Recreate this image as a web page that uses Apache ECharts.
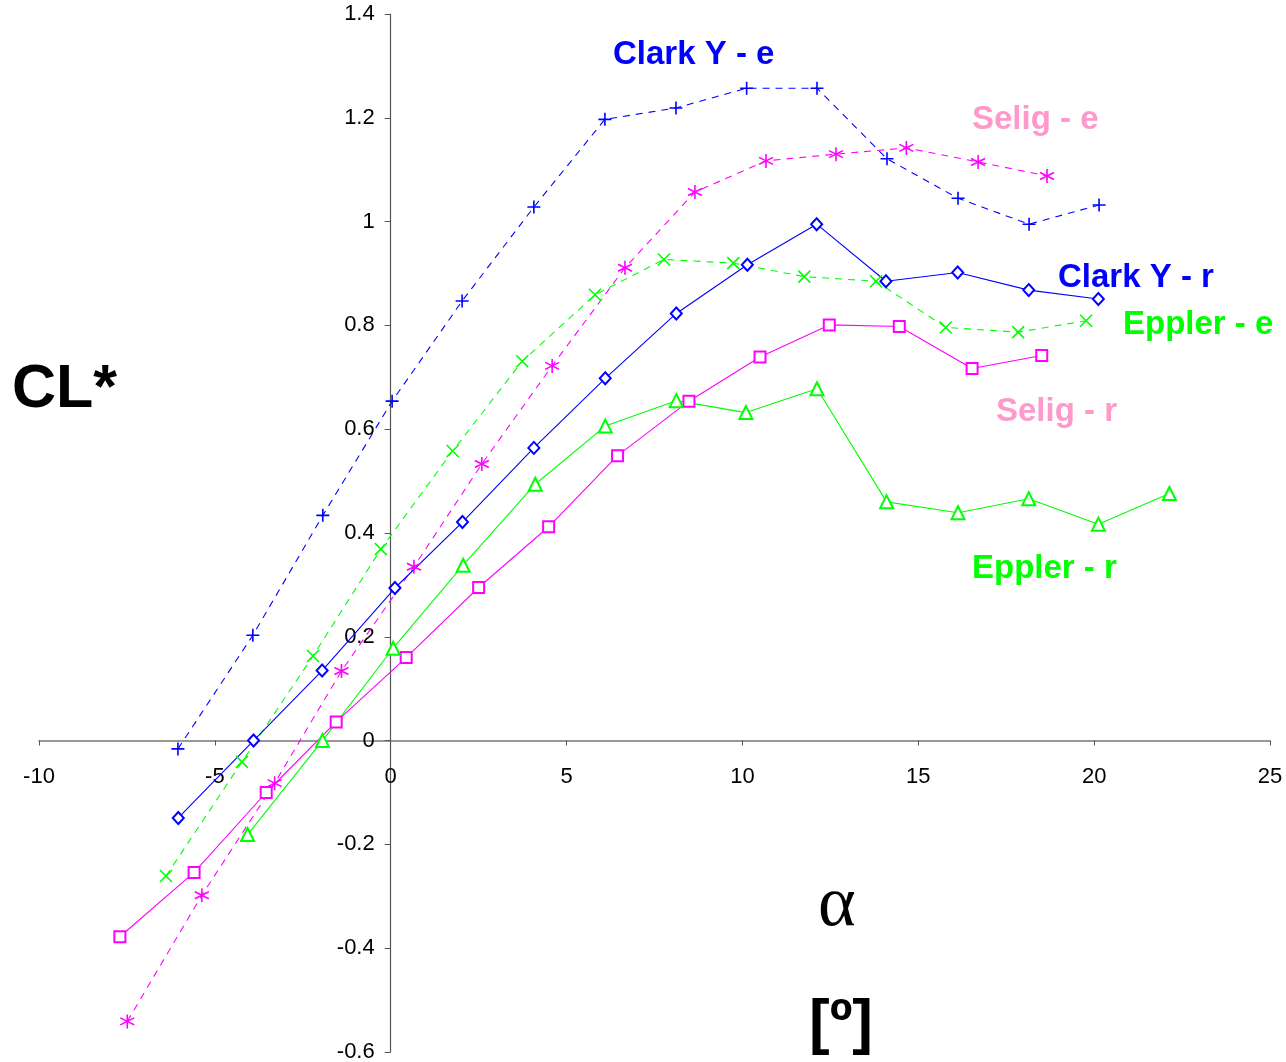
<!DOCTYPE html>
<html>
<head>
<meta charset="utf-8">
<script src="https://cdn.jsdelivr.net/npm/echarts@6/dist/echarts.min.js"></script>
<style>
  html, body { margin: 0; padding: 0; background: #fff; }
  #chart { width: 1286px; height: 1062px; }
</style>
</head>
<body>
<div id="chart"></div>
<script>
// angle of attack (deg) and CL* for each airfoil, e = experiment, r = ...
let clarkE_x = [-6.05, -3.92, -1.93, 0.04, 2.03, 4.07, 6.09, 8.11, 10.12, 12.12, 14.11, 16.13, 18.15, 20.14];
let clarkE_y = [-0.016, 0.203, 0.434, 0.654, 0.847, 1.028, 1.197, 1.219, 1.257, 1.257, 1.121, 1.045, 0.995, 1.032];

let seligE_x = [-7.49, -5.37, -3.30, -1.40, 0.66, 2.59, 4.59, 6.66, 8.65, 10.67, 12.66, 14.66, 16.70, 18.66];
let seligE_y = [-0.541, -0.298, -0.082, 0.134, 0.335, 0.533, 0.722, 0.911, 1.057, 1.117, 1.130, 1.142, 1.115, 1.088];

let clarkR_x = [-6.04, -3.90, -1.95, 0.12, 2.04, 4.07, 6.10, 8.12, 10.14, 12.11, 14.08, 16.12, 18.14, 20.12];
let clarkR_y = [-0.149, 0.0, 0.135, 0.294, 0.421, 0.564, 0.698, 0.823, 0.917, 0.995, 0.885, 0.902, 0.868, 0.851];

let epplerE_x = [-6.39, -4.23, -2.21, -0.28, 1.76, 3.74, 5.81, 7.77, 9.74, 11.76, 13.80, 15.78, 17.84, 19.77];
let epplerE_y = [-0.261, -0.041, 0.163, 0.369, 0.558, 0.731, 0.859, 0.927, 0.920, 0.894, 0.885, 0.796, 0.787, 0.809];

let seligR_x = [-7.70, -5.59, -3.54, -1.55, 0.44, 2.50, 4.49, 6.45, 8.48, 10.50, 12.47, 14.46, 16.53, 18.51];
let seligR_y = [-0.378, -0.254, -0.100, 0.036, 0.160, 0.295, 0.412, 0.549, 0.654, 0.739, 0.801, 0.798, 0.717, 0.742];

let epplerR_x = [-4.07, -1.94, 0.07, 2.06, 4.11, 6.10, 8.12, 10.10, 12.12, 14.10, 16.13, 18.14, 20.12, 22.14];
let epplerR_y = [-0.181, 0.0, 0.178, 0.338, 0.494, 0.606, 0.655, 0.632, 0.678, 0.460, 0.439, 0.466, 0.417, 0.476];

let BLUE = '#0000ff', MAG = '#ff00ff', GREEN = '#00ff00', PINK = '#ff99cc';

let plusSym = 'path://M5,0L5,10M0,5L10,5';
let crossSym = 'path://M0,0L10,10M0,10L10,0';
let starSym = 'path://M5,0L5,10M0.7,2.5L9.3,7.5M0.7,7.5L9.3,2.5';

let X_MIN = -10, X_MAX = 25, Y_MIN = -0.6, Y_MAX = 1.4;
let W = 1286, H = 1062;
let G = { left: 39, right: 16, top: 14, bottom: 10 };

function pairs(xs, ys) {
  let out = [];
  for (let i = 0; i < xs.length; i++) out.push([xs[i], ys[i]]);
  return out;
}

function makeSeries(xs, ys, color, dashed, symbol, size) {
  return {
    type: 'line',
    data: pairs(xs, ys),
    symbol: symbol,
    symbolSize: size,
    showAllSymbol: true,
    lineStyle: { color: color, width: 1.1, type: dashed ? [7, 6] : 'solid' },
    itemStyle: { color: color, borderColor: color, borderWidth: 1.6 },
    emphasis: { disabled: true },
    z: 3
  };
}

let labelFont = 'bold 33px "Liberation Sans", Arial, sans-serif';
function label(txt, x, y, color) {
  return {
    type: 'text', x: x, y: y,
    style: { text: txt, font: labelFont, fill: color, verticalAlign: 'middle' }
  };
}

// axes cross at zero, so shift them into the plot with an offset
let plotW = W - G.left - G.right, plotH = H - G.top - G.bottom;
let xOffset = -plotH * (0 - Y_MIN) / (Y_MAX - Y_MIN);
let yOffset = -plotW * (0 - X_MIN) / (X_MAX - X_MIN);

let myChart = echarts.init(document.getElementById('chart'));
let option = {
  animation: false,
  backgroundColor: '#fff',
  grid: { left: G.left, right: G.right, top: G.top, bottom: G.bottom, containLabel: false, outerBoundsMode: 'none' },
  xAxis: {
    type: 'value', min: X_MIN, max: X_MAX, interval: 5,
    offset: xOffset,
    splitLine: { show: false },
    axisLine: { onZero: false, lineStyle: { color: '#777', width: 1.5 } },
    axisTick: { length: 5, lineStyle: { color: '#555' } },
    axisLabel: { color: '#000', fontSize: 22, margin: 25, fontFamily: '"Liberation Sans", Arial, sans-serif' }
  },
  yAxis: {
    type: 'value', min: Y_MIN, max: Y_MAX, interval: 0.2,
    offset: yOffset,
    splitLine: { show: false },
    axisLine: { onZero: false, lineStyle: { color: '#555', width: 1.2 } },
    axisTick: { length: 6, lineStyle: { color: '#555' } },
    axisLabel: { color: '#000', fontSize: 22, margin: 16, fontFamily: '"Liberation Sans", Arial, sans-serif' }
  },
  series: [
    makeSeries(clarkE_x, clarkE_y, BLUE, true, plusSym, 13),
    makeSeries(seligE_x, seligE_y, MAG, true, starSym, 14),
    makeSeries(epplerE_x, epplerE_y, GREEN, true, crossSym, 12),
    makeSeries(clarkR_x, clarkR_y, BLUE, false, 'emptyDiamond', [11, 12]),
    makeSeries(seligR_x, seligR_y, MAG, false, 'emptyRect', 11),
    makeSeries(epplerR_x, epplerR_y, GREEN, false, 'emptyTriangle', 13)
  ],
  graphic: [
    label('Clark Y - e', 613, 55, BLUE),
    label('Selig - e', 972, 120, PINK),
    label('Clark Y - r', 1058, 278, BLUE),
    label('Eppler - e', 1123, 325, GREEN),
    label('Selig - r', 996, 412, PINK),
    label('Eppler - r', 972, 569, GREEN),
    { type: 'text', x: 12, y: 390,
      style: { text: 'CL*', font: 'bold 61px "Liberation Sans", Arial, sans-serif', fill: '#000', verticalAlign: 'middle' } },
    { type: 'text', x: 818, y: 906,
      style: { text: 'α', font: '72px "Liberation Serif", "DejaVu Serif", serif', fill: '#000', verticalAlign: 'middle' } },
    { type: 'text', x: 809, y: 1025,
      style: { text: '[º]', font: 'bold 62px "Liberation Sans", Arial, sans-serif', fill: '#000', verticalAlign: 'middle' } }
  ]
};
myChart.setOption(option);
</script>
</body>
</html>
